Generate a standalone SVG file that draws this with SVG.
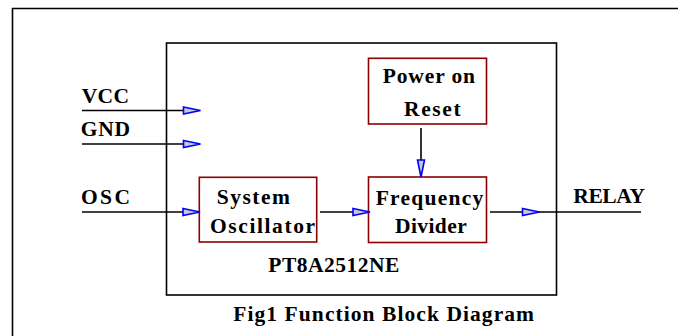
<svg xmlns="http://www.w3.org/2000/svg" xmlns:xlink="http://www.w3.org/1999/xlink" width="678" height="336" viewBox="0 0 678 336">
<style>
text{font-family:"Liberation Serif","Times New Roman",serif;font-weight:bold;font-size:21.5px;fill:#000}
.blk{fill:none;stroke:#8b0000;stroke-width:1.6}
.chip{fill:none;stroke:#000;stroke-width:1.6}
.wire{fill:none;stroke:#000;stroke-width:1.6}
.ah{fill:#c8c8d0;stroke:#0000ff;stroke-width:1.6;stroke-linejoin:miter}
</style>
<defs>
<path id="arr" class="ah" d="M0,-3.5 L17,0 L0,3.5 Z"/>
</defs>
<rect width="678" height="336" fill="#fff"/>
<path d="M12.5,336 V8.5 H678" fill="none" stroke="#000" stroke-width="1.6"/>
<g id="chip">
<rect class="chip" x="166.5" y="43" width="390" height="252"/>
<text x="268.3" y="271.7" textLength="131">PT8A2512NE</text>
</g>
<g id="por">
<rect class="blk" x="368.5" y="58.3" width="118" height="65.7"/>
<text x="382.7" y="83.3" textLength="92.3">Power on</text>
<text x="404" y="115.7" textLength="56.7">Reset</text>
</g>
<g id="osc">
<rect class="blk" x="199.3" y="177.3" width="117.4" height="64.7"/>
<text x="216.7" y="204" textLength="73.3">System</text>
<text x="210" y="232.7" textLength="105">Oscillator</text>
</g>
<g id="div">
<rect class="blk" x="368.5" y="177" width="118" height="65.5"/>
<text x="375.7" y="204.5" textLength="107.6">Frequency</text>
<text x="395" y="233.3" textLength="71.7">Divider</text>
</g>
<g id="pins">
<text x="81.7" y="102.7" textLength="47.3">VCC</text>
<text x="80.7" y="135.5" textLength="49.3">GND</text>
<text x="81" y="204" textLength="49">OSC</text>
<text x="573.3" y="203.3" textLength="71.7">RELAY</text>
</g>
<text x="233.3" y="321" textLength="300.7">Fig1 Function Block Diagram</text>
<g id="connectors">
<path class="wire" d="M82,110.5 H183"/>
<path class="wire" d="M82,144 H183"/>
<path class="wire" d="M82,212 H183"/>
<path class="wire" d="M320,212 H353"/>
<path class="wire" d="M490,212 H641"/>
<path class="wire" d="M421,128 V160"/>
<use xlink:href="#arr" x="183.5" y="110.5"/>
<use xlink:href="#arr" x="183.5" y="144"/>
<use xlink:href="#arr" x="183" y="212"/>
<use xlink:href="#arr" x="353" y="212"/>
<use xlink:href="#arr" x="522.5" y="212"/>
<use xlink:href="#arr" transform="translate(421,160) rotate(90)"/>
</g>
</svg>
